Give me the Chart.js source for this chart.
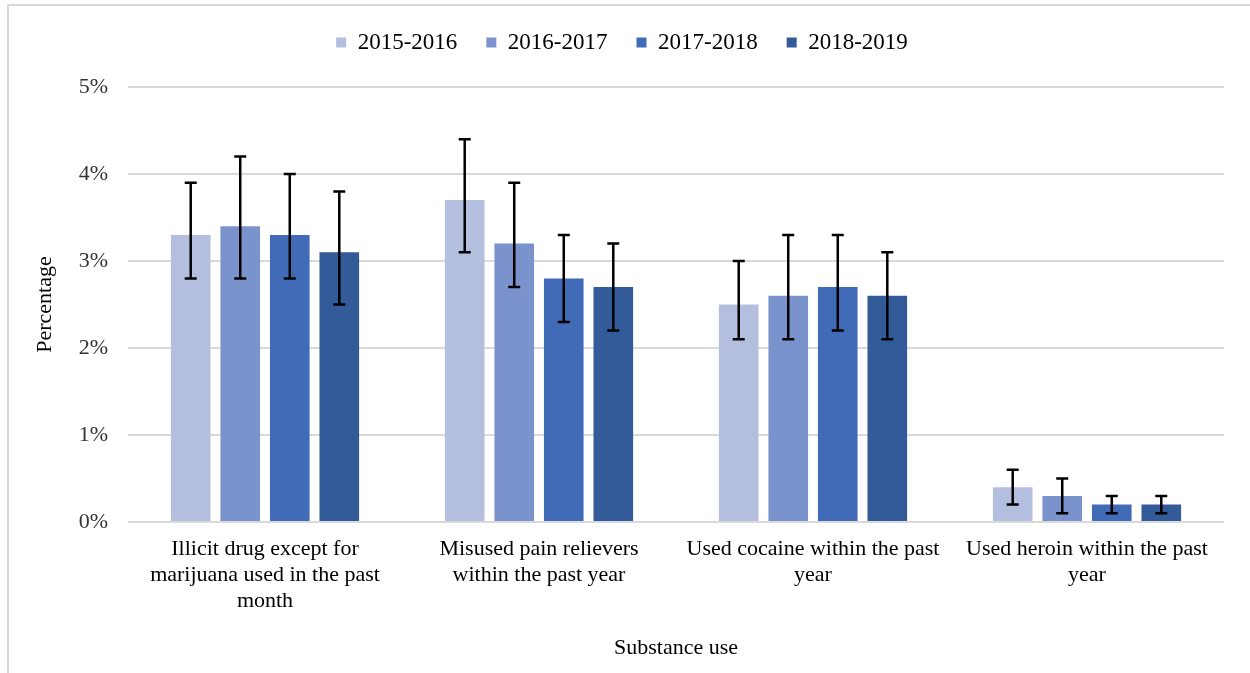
<!DOCTYPE html>
<html>
<head>
<meta charset="utf-8">
<script src="https://cdn.jsdelivr.net/npm/chart.js@4/dist/chart.umd.min.js"></script>
<style>
  body { margin: 0; background: #fff; }
  #wrap { position: relative; width: 1250px; height: 673px; }
  #frame { position: absolute; left: 7px; top: 4px; right: 0; bottom: 0;
           border-left: 2px solid #d9d9d9; border-top: 2px solid #d9d9d9; }
  #myChart { position: absolute; left: 0; top: 0; }
</style>
</head>
<body>
<div id="wrap">
  <div id="frame"></div>
  <canvas id="myChart" width="1250" height="673"></canvas>
</div>
<script>
// categories and series names
var categories = [
    ["Illicit drug except for", "marijuana used in the past", "month"],
    ["Misused pain relievers", "within the past year"],
    ["Used cocaine within the past", "year"],
    ["Used heroin within the past", "year"]
];
var seriesNames = ["2015-2016", "2016-2017", "2017-2018", "2018-2019"];
var seriesColors = ["#b4bfdf", "#7b93cd", "#416bb7", "#335a99"];

// estimates (%)
var est1516 = [3.3, 3.7, 2.5, 0.4];
var est1617 = [3.4, 3.2, 2.6, 0.3];
var est1718 = [3.3, 2.8, 2.7, 0.2];
var est1819 = [3.1, 2.7, 2.6, 0.2];

// confidence interval lower / upper bounds (%)
var low1516 = [2.8, 3.1, 2.1, 0.2];
var high1516 = [3.9, 4.4, 3.0, 0.6];
var low1617 = [2.8, 2.7, 2.1, 0.1];
var high1617 = [4.2, 3.9, 3.3, 0.5];
var low1718 = [2.8, 2.3, 2.2, 0.1];
var high1718 = [4.0, 3.3, 3.3, 0.3];
var low1819 = [2.5, 2.2, 2.1, 0.1];
var high1819 = [3.8, 3.2, 3.1, 0.3];

// y axis ticks
var yTicks = [0, 1, 2, 3, 4, 5];

var estimates = [est1516, est1617, est1718, est1819];
var lows = [low1516, low1617, low1718, low1819];
var highs = [high1516, high1617, high1718, high1819];

var font = "'Liberation Serif', 'Times New Roman', serif";

// draws the black whiskers on top of the bars
var errorBars = {
    id: "errorBars",
    afterDatasetsDraw: function (chart) {
        var ctx = chart.ctx;
        var yScale = chart.scales.y;
        ctx.save();
        ctx.strokeStyle = "#000";
        ctx.lineWidth = 2.5;
        chart.data.datasets.forEach(function (ds, i) {
            var meta = chart.getDatasetMeta(i);
            meta.data.forEach(function (bar, j) {
                var top = yScale.getPixelForValue(ds.errHigh[j]);
                var bottom = yScale.getPixelForValue(ds.errLow[j]);
                ctx.beginPath();
                ctx.moveTo(bar.x, top);
                ctx.lineTo(bar.x, bottom);
                ctx.moveTo(bar.x - 6, top);
                ctx.lineTo(bar.x + 6, top);
                ctx.moveTo(bar.x - 6, bottom);
                ctx.lineTo(bar.x + 6, bottom);
                ctx.stroke();
            });
        });
        ctx.restore();
    }
};

// extra room under the legend
var legendSpace = {
    id: "legendSpace",
    beforeInit: function (chart) {
        var fit = chart.legend.fit;
        chart.legend.fit = function () {
            fit.bind(chart.legend)();
            this.height += 23;
        };
    }
};

var ctx = document.getElementById("myChart").getContext("2d");
var myChart = new Chart(ctx, {
    type: "bar",
    data: {
        labels: categories,
        datasets: seriesNames.map(function (name, i) {
            return {
                label: name,
                data: estimates[i],
                errLow: lows[i],
                errHigh: highs[i],
                backgroundColor: seriesColors[i],
                borderWidth: 0,
                categoryPercentage: 0.723,
                barPercentage: 0.8
            };
        })
    },
    options: {
        responsive: false,
        animation: false,
        layout: { padding: { top: 2, left: 20, right: 26, bottom: 0 } },
        plugins: {
            legend: {
                display: true,
                position: "top",
                labels: {
                    font: { family: font, size: 23 },
                    color: "#000",
                    boxWidth: 10,
                    boxHeight: 10,
                    padding: 29
                }
            },
            tooltip: { enabled: false }
        },
        scales: {
            x: {
                grid: { display: false, drawTicks: false },
                border: { display: false },
                ticks: {
                    font: { family: font, size: 22, lineHeight: 1.18 },
                    color: "#000",
                    padding: 14,
                    maxRotation: 0,
                    autoSkip: false
                },
                title: {
                    display: true,
                    text: "Substance use",
                    font: { family: font, size: 22, lineHeight: 1.18 },
                    color: "#000",
                    padding: { top: 0, bottom: 12 }
                },
                afterFit: function (axis) { axis.height = 151; }
            },
            y: {
                min: 0,
                max: 5,
                grid: { color: "#d9d9d9", lineWidth: 2, drawTicks: false },
                border: { display: false },
                afterBuildTicks: function (axis) {
                    axis.ticks = yTicks.map(function (v) { return { value: v }; });
                },
                ticks: {
                    font: { family: font, size: 22 },
                    color: "#333",
                    padding: 20,
                    callback: function (v) { return v + "%"; }
                },
                title: {
                    display: true,
                    text: "Percentage",
                    font: { family: font, size: 22, lineHeight: 1.18 },
                    color: "#000",
                    padding: { top: 12, bottom: 0 }
                },
                afterFit: function (axis) { axis.width = 108; }
            }
        }
    },
    plugins: [errorBars, legendSpace]
});
</script>
</body>
</html>
